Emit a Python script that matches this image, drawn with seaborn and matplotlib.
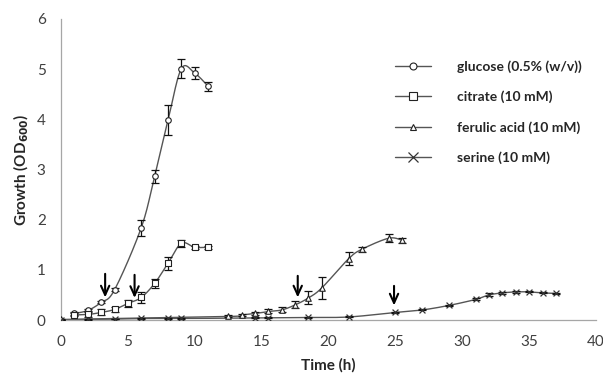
import numpy as np
import pandas as pd
import matplotlib
matplotlib.use("Agg")
import matplotlib.pyplot as plt
from matplotlib.lines import Line2D
import seaborn as sns

# Growth measurements (OD600) over time (h), mean and error
glucose_t = [1, 2, 3, 4, 6, 7, 8, 9, 10, 11]
glucose_od = [0.13, 0.19, 0.35, 0.60, 1.84, 2.87, 3.98, 5.01, 4.92, 4.66]
glucose_err = [0.03, 0.03, 0.02, 0.03, 0.16, 0.13, 0.30, 0.19, 0.12, 0.09]

citrate_t = [1, 2, 3, 4, 5, 6, 7, 8, 9, 10, 11]
citrate_od = [0.10, 0.11, 0.15, 0.21, 0.33, 0.45, 0.73, 1.13, 1.53, 1.45, 1.45]
citrate_err = [0.03, 0.06, 0.06, 0.05, 0.07, 0.11, 0.09, 0.13, 0.07, 0.03, 0.03]

ferulic_t = [0, 12.5, 13.5, 14.5, 15.5, 16.5, 17.5, 18.5, 19.5, 21.5, 22.5, 24.5, 25.5]
ferulic_od = [0.01, 0.07, 0.10, 0.13, 0.17, 0.20, 0.30, 0.44, 0.64, 1.22, 1.41, 1.63, 1.59]
ferulic_err = [0.01, 0.02, 0.02, 0.03, 0.04, 0.05, 0.07, 0.13, 0.22, 0.13, 0.05, 0.08, 0.05]

serine_t = [0, 2, 4, 6, 8, 9, 14.5, 15.5, 18.5, 21.5, 25, 27, 29, 31, 32, 33, 34, 35, 36, 37]
serine_od = [0.00, 0.01, 0.02, 0.03, 0.03, 0.03, 0.04, 0.04, 0.05, 0.06,
             0.15, 0.20, 0.29, 0.41, 0.50, 0.54, 0.56, 0.56, 0.54, 0.53]
serine_err = [0.005, 0.005, 0.005, 0.005, 0.005, 0.005, 0.01, 0.01, 0.01, 0.01,
              0.01, 0.01, 0.01, 0.02, 0.03, 0.02, 0.02, 0.01, 0.01, 0.01]

series_labels = ["glucose (0.5% (w/v))", "citrate (10 mM)",
                 "ferulic acid (10 mM)", "serine (10 mM)"]

# Arrows marking sampling points: (time, arrow top, arrow tip)
arrow_marks = [(3.3, 0.92, 0.45), (5.5, 0.90, 0.44), (17.7, 0.88, 0.45), (24.9, 0.68, 0.29)]

x_ticks = list(range(0, 45, 5))
y_ticks = list(range(0, 7))

records = []
for name, t, od, err in [
    (series_labels[0], glucose_t, glucose_od, glucose_err),
    (series_labels[1], citrate_t, citrate_od, citrate_err),
    (series_labels[2], ferulic_t, ferulic_od, ferulic_err),
    (series_labels[3], serine_t, serine_od, serine_err),
]:
    for a, b, c in zip(t, od, err):
        records.append({"series": name, "time": a, "od": b, "err": c})
df = pd.DataFrame(records)

markers = {series_labels[0]: "o", series_labels[1]: "s",
           series_labels[2]: "^", series_labels[3]: "x"}
msizes = {series_labels[0]: 16, series_labels[1]: 18,
          series_labels[2]: 16, series_labels[3]: 18}


def smooth(x, y, n=20):
    """Catmull-Rom curve through the points (Excel-style smoothed line)."""
    p = np.column_stack([x, y]).astype(float)
    p = np.vstack([p[0], p, p[-1]])
    out = []
    s = np.linspace(0, 1, n, endpoint=False)[:, None]
    for i in range(1, len(p) - 2):
        p0, p1, p2, p3 = p[i - 1], p[i], p[i + 1], p[i + 2]
        seg = 0.5 * ((2 * p1) + (-p0 + p2) * s + (2 * p0 - 5 * p1 + 4 * p2 - p3) * s ** 2
                     + (-p0 + 3 * p1 - 3 * p2 + p3) * s ** 3)
        out.append(seg)
    out.append(p[-2][None, :])
    c = np.vstack(out)
    return c[:, 0], c[:, 1]


sns.set_theme(style="white")
plt.rcParams["font.family"] = ["Lato", "DejaVu Sans"]

fig = plt.figure(figsize=(6.03, 3.80), dpi=100)
ax = fig.add_axes([61 / 603, 60 / 380, 535 / 603, 301 / 380])

line_col = "#555555"
for name in series_labels:
    d = df[df["series"] == name]
    xs, ys = smooth(d["time"].values, d["od"].values)
    ax.plot(xs, ys, color=line_col, lw=1.0, zorder=2)
    ax.errorbar(d["time"], d["od"], yerr=d["err"], fmt="none", ecolor="#111111",
                elinewidth=0.9, capsize=3, capthick=0.9, zorder=3)

for name in series_labels:
    d = df[df["series"] == name]
    m = markers[name]
    if m == "x":
        sns.scatterplot(data=d, x="time", y="od", marker="x", s=msizes[name],
                        color="#333333", linewidth=0.9, ax=ax, zorder=4, legend=False)
    else:
        sns.scatterplot(data=d, x="time", y="od", marker=m, s=msizes[name],
                        facecolor="white", edgecolor="#222222", linewidth=0.8,
                        ax=ax, zorder=4, legend=False)

for t, top, tip in arrow_marks:
    ax.annotate("", xy=(t, tip), xytext=(t, top),
                arrowprops=dict(arrowstyle="->,head_length=0.55,head_width=0.25",
                                color="black", lw=1.5, shrinkA=0, shrinkB=0))

ax.set_xlim(0, 40)
ax.set_ylim(0, 6)
ax.set_xticks(x_ticks)
ax.set_yticks(y_ticks)
ax.set_xticklabels([str(v) for v in x_ticks])
ax.set_yticklabels([str(v) for v in y_ticks])
for s in ["top", "right"]:
    ax.spines[s].set_visible(False)
for s in ["left", "bottom"]:
    ax.spines[s].set_color("#a6a6a6")
    ax.spines[s].set_linewidth(0.9)
ax.tick_params(axis="both", which="both", direction="out", length=5, width=0.9,
               color="#a6a6a6", labelsize=11, labelcolor="#404040")
ax.tick_params(axis="x", pad=6)
ax.tick_params(axis="y", pad=6)

ax.set_xlabel("Time (h)", fontsize=11, fontweight="bold", labelpad=6)
ax.set_ylabel(r"Growth (OD$_{\mathbf{600}}$)", fontsize=11, fontweight="bold", labelpad=4)

handles = []
for name in series_labels:
    m = markers[name]
    if m == "x":
        h = Line2D([0], [0], color=line_col, lw=1.0, marker="x", markersize=7,
                   markeredgecolor="#333333", markeredgewidth=0.9)
    else:
        h = Line2D([0], [0], color=line_col, lw=1.0, marker=m,
                   markersize=5 if m != "s" else 6,
                   markerfacecolor="white", markeredgecolor="#222222", markeredgewidth=0.8)
    handles.append(h)
leg = ax.legend(handles, series_labels, loc="upper left", bbox_to_anchor=(0.60, 0.905),
                frameon=False, handlelength=2.6, handletextpad=1.9, labelspacing=1.28,
                prop={"weight": "bold", "size": 10})

fig.savefig("out.png", dpi=100)
